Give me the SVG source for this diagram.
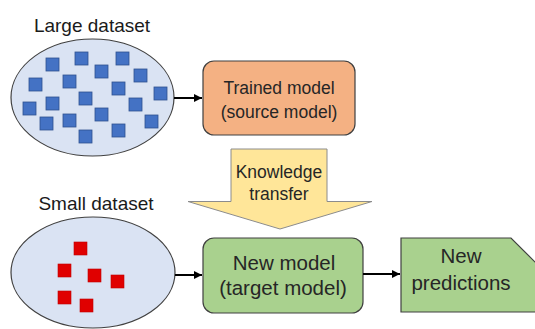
<svg xmlns="http://www.w3.org/2000/svg" width="535" height="329" viewBox="0 0 535 329">
<defs>
<style>
.t{font-family:"Liberation Sans",Arial,sans-serif;fill:#262626;text-anchor:middle}
.title{font-size:19px;fill:#1a1a1a}
.lbl{font-size:17.5px}
.big{font-size:20.5px}
.ell{fill:#DAE3F3;stroke:#404040;stroke-width:1.2}
.bsq{fill:#4472C4;stroke:#2F528F;stroke-width:0.8}
.rsq{fill:#E00000;stroke:#C00000;stroke-width:0.6}
.conn{stroke:#000;stroke-width:2;fill:none}
</style>
<marker id="ah" viewBox="0 0 10 10" refX="10" refY="5" markerWidth="4" markerHeight="4" orient="auto" markerUnits="strokeWidth">
<path d="M0,0 L10,5 L0,10 z" fill="#000"/>
</marker>
</defs>
<rect width="535" height="329" fill="#fff"/>

<g id="large-dataset">
<text class="t title" x="92" y="32">Large dataset</text>
<ellipse class="ell" cx="92.5" cy="97.5" rx="81.5" ry="58.5"/>
<g>
<rect class="bsq" x="46" y="58" width="13" height="13"/>
<rect class="bsq" x="75" y="52" width="13" height="13"/>
<rect class="bsq" x="116" y="52" width="13" height="13"/>
<rect class="bsq" x="95" y="65" width="13" height="13"/>
<rect class="bsq" x="134" y="69" width="13" height="13"/>
<rect class="bsq" x="29" y="78" width="13" height="13"/>
<rect class="bsq" x="63" y="75" width="13" height="13"/>
<rect class="bsq" x="112" y="82" width="13" height="13"/>
<rect class="bsq" x="154" y="87" width="13" height="13"/>
<rect class="bsq" x="79" y="92" width="13" height="13"/>
<rect class="bsq" x="23" y="102" width="13" height="13"/>
<rect class="bsq" x="46" y="97" width="13" height="13"/>
<rect class="bsq" x="129" y="98" width="13" height="13"/>
<rect class="bsq" x="95" y="108" width="13" height="13"/>
<rect class="bsq" x="40" y="117" width="13" height="13"/>
<rect class="bsq" x="63" y="114" width="13" height="13"/>
<rect class="bsq" x="145" y="115" width="13" height="13"/>
<rect class="bsq" x="79" y="130" width="13" height="13"/>
<rect class="bsq" x="112" y="124" width="13" height="13"/>
</g>
</g>

<g id="small-dataset">
<text class="t title" x="96" y="210">Small dataset</text>
<ellipse class="ell" cx="93" cy="272.5" rx="82" ry="55.5"/>
<g>
<rect class="rsq" x="74" y="242" width="13" height="13"/>
<rect class="rsq" x="58" y="264" width="13" height="13"/>
<rect class="rsq" x="88" y="269" width="13" height="13"/>
<rect class="rsq" x="111" y="275" width="13" height="13"/>
<rect class="rsq" x="58" y="291" width="13" height="13"/>
<rect class="rsq" x="80" y="299" width="13" height="13"/>
</g>
</g>

<g id="trained-model">
<rect x="203" y="61" width="152" height="74" rx="11" fill="#F4B183" stroke="#404040" stroke-width="1.2"/>
<text class="t lbl" x="279" y="94">Trained model</text>
<text class="t lbl" x="279" y="118">(source model)</text>
</g>

<g id="knowledge-transfer">
<path d="M231,149 H327 V201.5 H372 L280,229 L188,201.5 H231 Z" fill="#FFE699" stroke="#8C8C8C" stroke-width="1"/>
<text class="t lbl" x="279" y="178">Knowledge</text>
<text class="t lbl" x="279" y="200">transfer</text>
</g>

<g id="new-model">
<rect x="203" y="238" width="160" height="75" rx="11" fill="#A9D18E" stroke="#404040" stroke-width="1.2"/>
<text class="t big" x="284" y="270">New model</text>
<text class="t big" x="283" y="295">(target model)</text>
</g>

<g id="new-predictions">
<path d="M401,238 H511 L537,264 V312 H401 Z" fill="#A9D18E" stroke="#404040" stroke-width="1.2"/>
<text class="t big" x="461" y="263">New</text>
<text class="t big" x="461" y="290">predictions</text>
</g>

<g id="connectors">
<line class="conn" x1="174" y1="98" x2="202" y2="98" marker-end="url(#ah)"/>
<line class="conn" x1="175" y1="275" x2="202" y2="275" marker-end="url(#ah)"/>
<line class="conn" x1="363" y1="274" x2="400" y2="274" marker-end="url(#ah)"/>
</g>
</svg>
